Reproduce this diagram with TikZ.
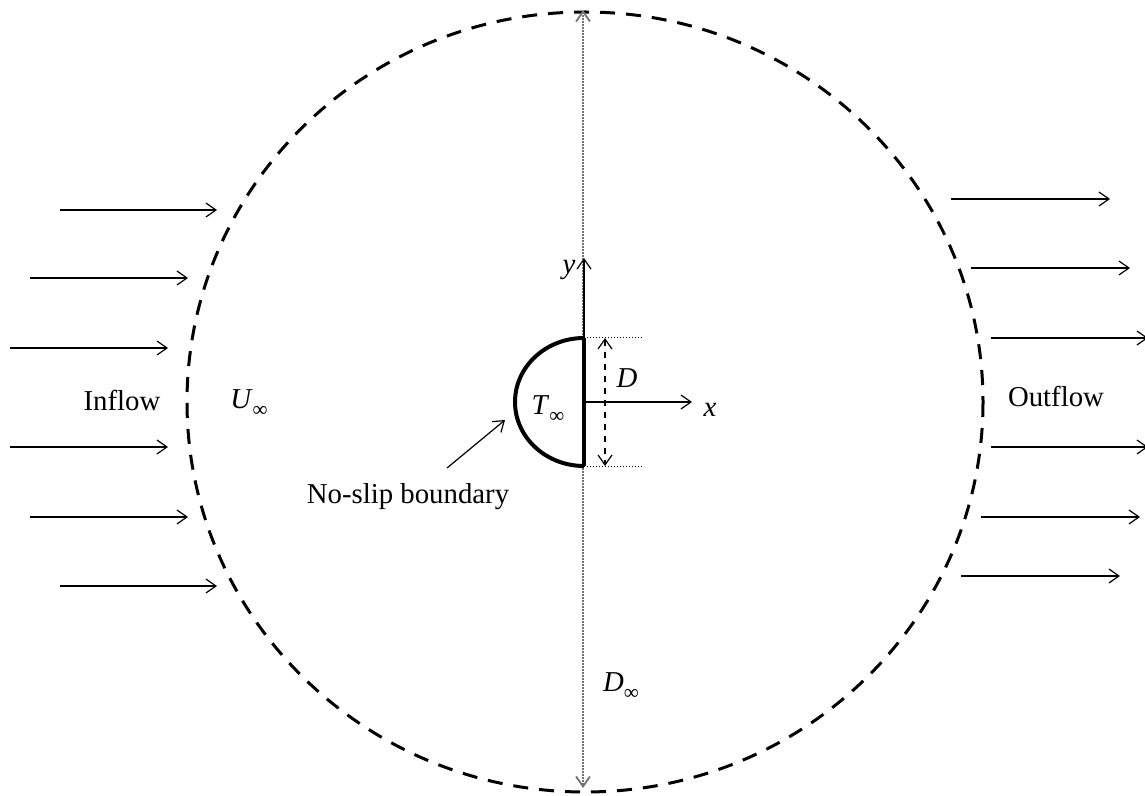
\documentclass[tikz,border=0pt]{standalone}
\usepackage{fontspec}
\setmainfont{Liberation Serif}
\usetikzlibrary{arrows.meta}
\newcommand\infsub{\raisebox{-0.6ex}{\fontsize{10.5}{11}\selectfont ∞}}
\begin{document}
\begin{tikzpicture}[x=0.5pt,y=-0.5pt,
  tipb/.tip={Straight Barb[length=5pt,width=7pt,line width=0.6pt]},
  tipg/.tip={Straight Barb[length=5pt,width=7pt,line width=0.9pt,black!55]},
  flow/.style={line width=0.6pt,-{tipb}},
  lbl/.style={font=\fontsize{14.4}{17}\selectfont, inner sep=0pt},
  bound/.style={line width=1.5pt, dash pattern=on 7.5pt off 5.5pt},
  centre/.style={black!55, line width=1.4pt, dash pattern=on 1pt off 0.5pt},
  wall/.style={line width=2pt},
  guide/.style={line width=0.5pt, densely dotted},
  dimline/.style={line width=0.6pt, dashed, {tipb}-{tipb}}]
\useasboundingbox (0,0) rectangle (1145,796);
% outer boundary
\draw[bound] (585,402) ellipse [x radius=398, y radius=390];
% centre line
\coordinate (ctop) at (583,10);
\coordinate (cbot) at (583,788);
\draw[centre, {tipg}-{tipg}] (ctop) -- (cbot);
% body
\coordinate (O) at (584,402);
\coordinate (wt) at (584,338);
\coordinate (wb) at (584,466);
\draw[wall] (wt) arc[start angle=270, end angle=90, x radius=69, y radius=64];
\draw[wall] (wt) -- (wb);
% axes
\coordinate (ytip) at (584,258);
\coordinate (xtip) at (692,402);
\draw[flow] (O) -- (ytip);
\draw[flow] (O) -- (xtip);
\node[lbl] (ylab) at (569,270) {\textit{y}};
\node[lbl] (xlab) at (710,410) {\textit{x}};
% dimension D
\coordinate (gt) at (643,338);
\coordinate (gb) at (643,466);
\draw[guide] (wt) -- (gt);
\draw[guide] (wb) -- (gb);
\coordinate (dt) at (605,338);
\coordinate (db) at (605,466);
\draw[dimline] (dt) -- (db);
\node[lbl] (Dlab) at (627,378) {\textit{D}};
\node[lbl] (Tlab) at (548,409) {\textit{T}\infsub};
% labels
\node[lbl] (nsl) at (408,497) {No-slip boundary};
\coordinate (nst) at (505,420);
\draw[flow] (447,468) coordinate (nss) -- (nst);
\node[lbl] (inflow) at (122,401) {Inflow};
\node[lbl] (uinf) at (249,403) {\textit{U}\infsub};
\node[lbl] (outflow) at (1056,397) {Outflow};
\node[lbl] (dinf) at (621,686) {\textit{D}\infsub};
% inflow arrows
\foreach \i/\y/\a/\b in {1/210/60/217, 2/278/30/188, 3/348/10/168, 4/447/10/168, 5/517/30/188, 6/586/60/217}{
  \coordinate (in\i s) at (\a,\y);
  \coordinate (in\i e) at (\b,\y);
  \draw[flow] (in\i s) -- (in\i e);
}
% outflow arrows
\foreach \i/\y/\a/\b in {1/199/951/1110, 2/268/971/1130, 3/338/991/1148, 4/447/991/1148, 5/517/981/1140, 6/576/961/1120}{
  \coordinate (out\i s) at (\a,\y);
  \coordinate (out\i e) at (\b,\y);
  \draw[flow] (out\i s) -- (out\i e);
}
\end{tikzpicture}
\end{document}
